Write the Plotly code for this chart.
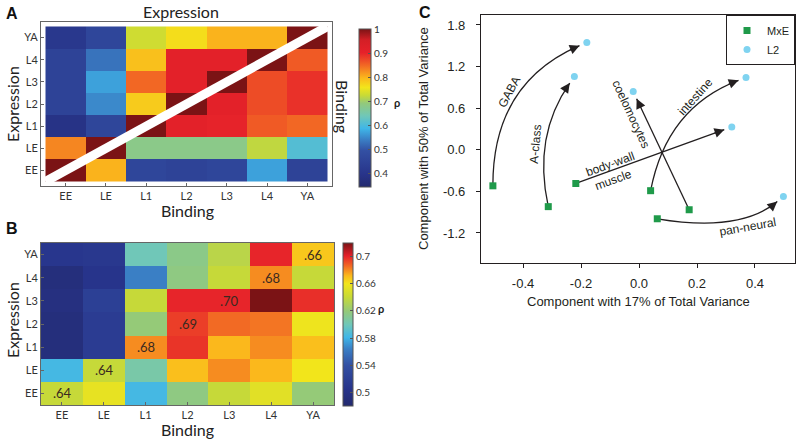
import numpy as np
import plotly.graph_objects as go

# ── Data ──────────────────────────────────────────────────────────────────────
stages = ["EE", "LE", "L1", "L2", "L3", "L4", "YA"]
rows_top_down = stages[::-1]

# Panel A: rows YA..EE (top to bottom), columns EE..YA
corr_a = [
    [0.41, 0.46, 0.73, 0.765, 0.80, 0.80, 1.00],
    [0.45, 0.53, 0.79, 0.91, 0.91, 1.00, 0.86],
    [0.45, 0.57, 0.85, 0.91, 1.00, 0.87, 0.89],
    [0.45, 0.55, 0.78, 1.00, 0.91, 0.87, 0.89],
    [0.39, 0.46, 1.00, 0.91, 0.90, 0.86, 0.85],
    [0.83, 1.00, 0.68, 0.68, 0.68, 0.72, 0.61],
    [1.00, 0.80, 0.46, 0.45, 0.46, 0.57, 0.45],
]

# Panel B: rows YA..EE (top to bottom), columns EE..YA
corr_b = [
    [0.508, 0.510, 0.600, 0.615, 0.635, 0.700, 0.668],
    [0.492, 0.505, 0.564, 0.617, 0.640, 0.680, 0.640],
    [0.495, 0.520, 0.640, 0.700, 0.700, 0.720, 0.698],
    [0.492, 0.515, 0.620, 0.695, 0.686, 0.684, 0.658],
    [0.492, 0.515, 0.680, 0.697, 0.672, 0.680, 0.670],
    [0.583, 0.640, 0.605, 0.670, 0.680, 0.672, 0.660],
    [0.640, 0.655, 0.583, 0.617, 0.640, 0.652, 0.620],
]
diag_labels_b = [".64", ".64", ".68", ".69", ".70", ".68", ".66"]  # EE..YA

cb_a_ticks = [0.4, 0.5, 0.6, 0.7, 0.8, 0.9, 1.0]
cb_a_text = ["0.4", "0.5", "0.6", "0.7", "0.8", "0.9", "1"]
cb_b_ticks = [0.5, 0.54, 0.58, 0.62, 0.66, 0.70]
cb_b_text = ["0.5", "0.54", "0.58", "0.62", "0.66", "0.7"]

# Panel C: PCA positions
link_names = ["GABA", "A-class", "body-wall muscle", "intestine", "coelomocytes", "pan-neural"]
mxe_x = [-0.504, -0.313, -0.218, 0.040, 0.173, 0.063]
mxe_y = [-0.52, -0.82, -0.486, -0.59, -0.865, -0.995]
l2_x = [-0.180, -0.223, 0.320, 0.369, -0.020, 0.498]
l2_y = [1.547, 1.057, 0.330, 1.043, 0.840, -0.673]

x_ticks_c = [-0.4, -0.2, 0.0, 0.2, 0.4]
y_ticks_c = [-1.2, -0.6, 0.0, 0.6, 1.2, 1.8]

# ── Styling ───────────────────────────────────────────────────────────────────
W, H = 800, 442
HM_FONT = "Lato, Open Sans, sans-serif"
C_FONT = "Liberation Sans, Arial, sans-serif"
INK = "#231f20"

scale_a = [
    [0.00, "#232a6e"], [0.08, "#28348a"], [0.23, "#3350a3"], [0.30, "#3a7fc5"],
    [0.37, "#3fb6e8"], [0.45, "#70c7b8"], [0.53, "#93c97b"], [0.58, "#c8da36"],
    [0.63, "#f2e51b"], [0.69, "#fbb81c"], [0.77, "#f26824"], [0.85, "#e6212a"],
    [0.93, "#d41f26"], [1.00, "#7b1315"],
]
scale_b = [
    [0.00, "#232a6e"], [0.10, "#27338a"], [0.25, "#3350a3"], [0.35, "#3a7fc5"],
    [0.42, "#3fb6e8"], [0.50, "#70c7b8"], [0.58, "#93c97b"], [0.67, "#c8da36"],
    [0.75, "#f2e51b"], [0.80, "#fbb81c"], [0.86, "#f26824"], [0.92, "#e6212a"],
    [1.00, "#7b1315"],
]


def xdom(a, b):
    return [a / W, b / W]


def ydom(top, bottom):
    return [1 - bottom / H, 1 - top / H]


# panel C pixel box and ranges
CX0, CX1, CY0, CY1 = 481, 795, 15, 263
XR = [-0.545, 0.538]
YR = [-1.633, 1.944]


def to_px(x, y):
    return np.array([CX0 + (x - XR[0]) / (XR[1] - XR[0]) * (CX1 - CX0),
                     CY1 - (y - YR[0]) / (YR[1] - YR[0]) * (CY1 - CY0)])


def to_data(p):
    return (XR[0] + (p[0] - CX0) / (CX1 - CX0) * (XR[1] - XR[0]),
            YR[0] + (CY1 - p[1]) / (CY1 - CY0) * (YR[1] - YR[0]))


# curve shape per link: (position of control point along chord, bend to the left of travel)
curve_style = [(0.5, 0.33), (0.5, 0.22), (0.5, 0.0), (0.5, 0.28), (0.5, 0.0), (0.62, -0.22)]
label_specs = {
    "GABA": [("GABA", 0.52, 8, -62)],
    "A-class": [("A-class", 0.45, 10, -85)],
    "body-wall muscle": [("body-wall", 0.24, 6, -20), ("muscle", 0.22, -9, -20)],
    "intestine": [("intestine", 0.7, 7, -48)],
    "coelomocytes": [("coelomocytes", 0.9, 12, 65)],
    "pan-neural": [("pan-neural", 0.65, -9, -10)],
}
GAP = 8

fig = go.Figure()

# ── Panel A ───────────────────────────────────────────────────────────────────
fig.add_trace(go.Heatmap(
    z=corr_a, x=stages, y=rows_top_down, xaxis="x", yaxis="y",
    colorscale=scale_a, zmin=0.345, zmax=1.0, hoverinfo="skip",
    colorbar=dict(
        x=359 / W, xanchor="left", xpad=0, y=1 - 108 / H, yanchor="middle", ypad=0,
        len=158, lenmode="pixels", thickness=12, thicknessmode="pixels",
        outlinewidth=1, outlinecolor="#555", tickvals=cb_a_ticks, ticktext=cb_a_text,
        ticks="inside", ticklen=3, tickcolor="#555",
        tickfont=dict(family=HM_FONT, size=10, color="#333"),
    ),
))

# ── Panel B ───────────────────────────────────────────────────────────────────
text_b = [["" for _ in stages] for _ in rows_top_down]
for c, s in enumerate(stages):
    text_b[rows_top_down.index(s)][c] = diag_labels_b[c]

fig.add_trace(go.Heatmap(
    z=corr_b, x=stages, y=rows_top_down, xaxis="x2", yaxis="y2",
    colorscale=scale_b, zmin=0.48, zmax=0.72, hoverinfo="skip",
    text=text_b, texttemplate="%{text}",
    textfont=dict(family=HM_FONT, size=13, color="#3a2a20"),
    colorbar=dict(
        x=343 / W, xanchor="left", xpad=0, y=1 - 324.5 / H, yanchor="middle", ypad=0,
        len=163, lenmode="pixels", thickness=10, thicknessmode="pixels",
        outlinewidth=1, outlinecolor="#555", tickvals=cb_b_ticks, ticktext=cb_b_text,
        ticks="inside", ticklen=3, tickcolor="#555",
        tickfont=dict(family=HM_FONT, size=10, color="#333"),
    ),
))

# ── Panel C ───────────────────────────────────────────────────────────────────
fig.add_trace(go.Scatter(
    x=mxe_x, y=mxe_y, mode="markers", name="MxE", xaxis="x3", yaxis="y3",
    marker=dict(symbol="square", size=7, color="#1f9a4a"), hoverinfo="skip",
))
fig.add_trace(go.Scatter(
    x=l2_x, y=l2_y, mode="markers", name="L2", xaxis="x3", yaxis="y3",
    marker=dict(symbol="circle", size=7, color="#7fd3f0"), hoverinfo="skip",
))

shapes = [dict(type="line", xref="x", yref="y", x0=-0.5, y0=6.5, x1=6.5, y1=-0.5,
               line=dict(color="white", width=9), layer="above")]
annotations = []

for i, name in enumerate(link_names):
    p0 = to_px(mxe_x[i], mxe_y[i])
    p2 = to_px(l2_x[i], l2_y[i])
    chord = p2 - p0
    L = np.hypot(*chord)
    u = chord / L
    left = np.array([u[1], -u[0]])
    along, bend = curve_style[i]
    ctrl = p0 + chord * along + left * bend * L
    tdir = p2 - ctrl
    tdir = tdir / np.hypot(*tdir)
    tip = p2 - tdir * GAP
    tail = tip - tdir * 12

    d0, dc, dt = to_data(p0), to_data(ctrl), to_data(tip)
    shapes.append(dict(
        type="path", xref="x3", yref="y3", layer="below",
        path=f"M {d0[0]},{d0[1]} Q {dc[0]},{dc[1]} {dt[0]},{dt[1]}",
        line=dict(color=INK, width=1.3),
    ))
    dtail = to_data(tail)
    annotations.append(dict(
        x=dt[0], y=dt[1], ax=dtail[0], ay=dtail[1], xref="x3", yref="y3",
        axref="x3", ayref="y3", text=" ", font=dict(size=1), showarrow=True,
        arrowhead=2, arrowsize=1.5, arrowwidth=1.3, arrowcolor=INK, standoff=0,
    ))

    for txt, t, off, ang in label_specs[name]:
        pt = (1 - t) ** 2 * p0 + 2 * (1 - t) * t * ctrl + t ** 2 * tip
        pt = pt + left * off
        dl = to_data(pt)
        annotations.append(dict(
            x=dl[0], y=dl[1], xref="x3", yref="y3", text=txt, showarrow=False,
            textangle=ang, font=dict(family=C_FONT, size=12, color=INK),
        ))


def paper_text(txt, x, y, size, angle=0, family=HM_FONT, bold=False, color="#222"):
    return dict(
        x=x / W, y=1 - y / H, xref="paper", yref="paper", showarrow=False,
        text=f"<b>{txt}</b>" if bold else txt, textangle=angle,
        xanchor="center", yanchor="middle",
        font=dict(family=family, size=size, color=color),
    )


annotations += [
    paper_text("A", 12, 13, 16, family=C_FONT, bold=True, color="#111"),
    paper_text("B", 12, 228, 16, family=C_FONT, bold=True, color="#111"),
    paper_text("C", 425, 12, 16, family=C_FONT, bold=True, color="#111"),
    paper_text("Expression", 181, 11, 16),
    paper_text("Expression", 12, 104, 16, angle=-90),
    paper_text("Binding", 187, 210, 16),
    paper_text("Binding", 343, 106, 16, angle=90),
    paper_text("ρ", 397, 102, 11, bold=True),
    paper_text("Expression", 12, 320, 16, angle=-90),
    paper_text("Binding", 187, 429, 16),
    paper_text("ρ", 381, 308, 11, bold=True),
    paper_text("Component with 17% of Total Variance", 638, 301, 13, family=C_FONT, color=INK),
    paper_text("Component with 50% of Total Variance", 423, 139, 13, angle=-90,
               family=C_FONT, color=INK),
]

hm_x = dict(type="category", showline=True, mirror=True, linecolor="#666", linewidth=1,
            ticks="inside", ticklen=3, tickcolor="#666", showgrid=False,
            tickfont=dict(family=HM_FONT, size=11, color="#333"))
hm_y = dict(hm_x, autorange="reversed")

c_axis = dict(showline=True, mirror=True, linecolor=INK, linewidth=1.2, showgrid=False,
              zeroline=False, ticks="outside", ticklen=4, tickcolor=INK,
              tickfont=dict(family=C_FONT, size=13, color=INK))

fig.update_layout(
    width=W, height=H, margin=dict(l=0, r=0, t=0, b=0),
    paper_bgcolor="white", plot_bgcolor="white",
    xaxis=dict(hm_x, domain=xdom(41, 332), anchor="y"),
    yaxis=dict(hm_y, domain=ydom(22, 186), anchor="x"),
    xaxis2=dict(hm_x, domain=xdom(41, 334), anchor="y2"),
    yaxis2=dict(hm_y, domain=ydom(243, 405), anchor="x2"),
    xaxis3=dict(c_axis, domain=xdom(CX0, CX1), range=XR, anchor="y3",
                tickvals=x_ticks_c, ticktext=[f"{v:.1f}" for v in x_ticks_c],
                ticklabelstandoff=4),
    yaxis3=dict(c_axis, domain=ydom(CY0, CY1), range=YR, anchor="x3",
                tickvals=y_ticks_c, ticktext=[f"{v:.1f}" for v in y_ticks_c],
                ticklabelstandoff=8),
    showlegend=True,
    legend=dict(x=CX1 / W, xanchor="right", y=1 - CY0 / H, yanchor="top",
                bordercolor=INK, borderwidth=1, bgcolor="white",
                font=dict(family=C_FONT, size=11, color=INK),
                itemwidth=30, tracegroupgap=0),
    shapes=shapes,
    annotations=annotations,
)

fig.write_html("out.html", config={"displayModeBar": False},
               post_script="document.body.style.margin='0';")
